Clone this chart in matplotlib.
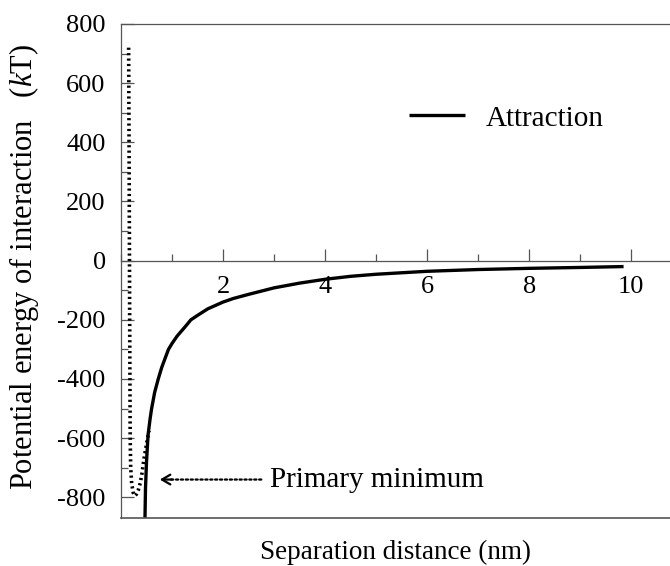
import numpy as np
import matplotlib
matplotlib.use("Agg")
import matplotlib.pyplot as plt
from matplotlib.ticker import MultipleLocator
from matplotlib.lines import Line2D

# --- data ---
attr_x = [0.47, 0.48, 0.50, 0.53, 0.57, 0.60, 0.66, 0.73, 0.80, 0.93, 1.0, 1.1,
          1.25, 1.37, 1.5, 1.7, 2.0, 2.2, 2.5, 2.75, 3.0, 3.5, 4.0, 4.5, 5.0,
          6.0, 7.0, 8.0, 9.0, 9.85]
attr_y = [-870, -770, -680, -590, -535, -500, -445, -400, -360, -300, -280, -255,
          -225, -200, -185, -163, -140, -128, -114, -103, -92, -76, -63, -53, -46,
          -36, -30, -26, -23, -20]

total_x = [0.15, 0.16, 0.17, 0.18, 0.19, 0.21, 0.24, 0.27, 0.30, 0.34, 0.38,
           0.41, 0.45, 0.50, 0.55]
total_y = [720, 300, -200, -600, -700, -755, -785, -795, -790, -775, -750,
           -720, -670, -620, -575]

x_ticks = [2, 4, 6, 8, 10]
y_ticks = [-800, -600, -400, -200, 0, 200, 400, 600, 800]

plt.rcParams['font.family'] = ['Liberation Serif', 'DejaVu Serif']
plt.rcParams['mathtext.fontset'] = 'custom'
plt.rcParams['mathtext.rm'] = 'Liberation Serif'
plt.rcParams['mathtext.it'] = 'Liberation Serif:italic'
plt.rcParams['axes.unicode_minus'] = False

FS = 19
AX_COL = '#555555'

fig = plt.figure(figsize=(6.70, 5.66), dpi=100)
ax = fig.add_axes([121 / 670, 48 / 566, 549 / 670, 494 / 566])

ax.plot(total_x, total_y, color='black', lw=2.6, linestyle=(0, (0.6, 0.9)))
ax.plot(attr_x, attr_y, color='black', lw=2.4, label='Attraction',
        solid_capstyle='butt', solid_joinstyle='round')

ax.set_xlim(0, 10.76)
ax.set_ylim(-870, 800)

# frame: left, top, bottom edge; x ticks sit on the zero line
ax.spines['right'].set_visible(False)
ax.spines['bottom'].set_position(('data', 0))
for s in ['left', 'top', 'bottom']:
    ax.spines[s].set_color(AX_COL)
    ax.spines[s].set_linewidth(0.9)
ax.add_line(Line2D([0, 1], [0, 0], transform=ax.transAxes, color=AX_COL,
                   lw=1.2, clip_on=False))

ax.set_xticks(x_ticks)
ax.set_yticks(y_ticks)
ax.xaxis.set_minor_locator(MultipleLocator(1))
ax.yaxis.set_minor_locator(MultipleLocator(100))
ax.tick_params(which='both', direction='in', color=AX_COL, width=0.9,
               labelsize=FS, top=False, right=False)
ax.tick_params(which='major', length=9)
ax.tick_params(which='minor', length=5)
ax.tick_params(axis='x', which='major', pad=11)
ax.tick_params(axis='y', which='major', pad=11)

ax.set_xlabel('Separation distance (nm)', fontsize=19.5, labelpad=0)
ax.xaxis.set_label_coords(0.5, -0.045)
ax.set_ylabel('Potential energy of interaction   ($\\it{k}$T)', fontsize=22)
ax.yaxis.set_label_coords(-0.146, 0.509)

# arrow to primary minimum: dotted shaft + solid open head
ax.annotate('', xy=(0.98, -740), xytext=(2.75, -740),
            arrowprops=dict(arrowstyle='-', linestyle=(0, (1, 1.2)), lw=1.6,
                            color='black', shrinkA=0, shrinkB=0))
ax.annotate('', xy=(0.76, -740), xytext=(1.0, -740),
            arrowprops=dict(arrowstyle='->,head_length=0.6,head_width=0.35',
                            lw=1.6, color='black', shrinkA=0, shrinkB=0))
ax.text(2.92, -740, 'Primary minimum', fontsize=21, va='center', ha='left')

ax.legend(loc='upper left', bbox_to_anchor=(0.476, 0.889), frameon=False,
          fontsize=21, handlelength=1.95, handletextpad=0.7)

fig.savefig('out.png', dpi=100)
